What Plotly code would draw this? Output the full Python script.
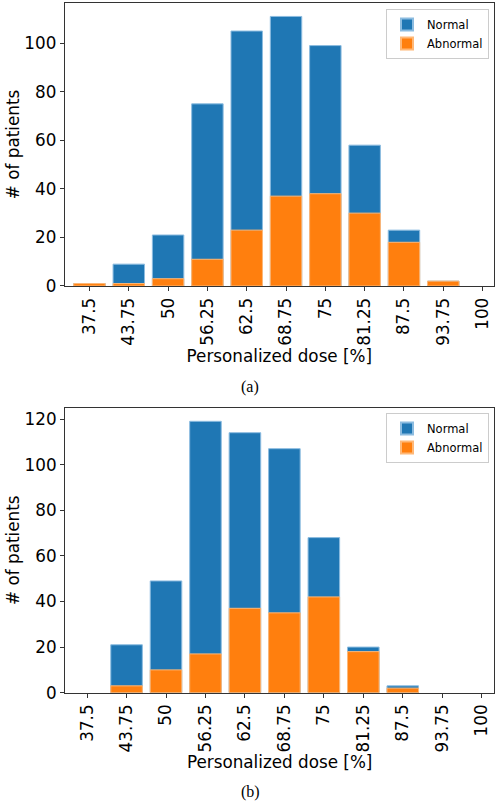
import plotly.graph_objects as go
from plotly.subplots import make_subplots

doses = ["37.5", "43.75", "50", "56.25", "62.5", "68.75", "75", "81.25", "87.5", "93.75", "100"]

normal_a = [1, 9, 21, 75, 105, 111, 99, 58, 23, 2, 0]
abnormal_a = [1, 1, 3, 11, 23, 37, 38, 30, 18, 2, 0]

normal_b = [0, 21, 49, 119, 114, 107, 68, 20, 3, 0, 0]
abnormal_b = [0, 3, 10, 17, 37, 35, 42, 18, 2, 0, 0]

BLUE = "#1f77b4"
ORANGE = "#ff7f0e"
FONT = "DejaVu Sans"
FS = 16.8

fig = make_subplots(rows=2, cols=1)

def nz(values):
    # empty bins are drawn as nothing (no outline at the baseline)
    return [v if v else None for v in values]

def add_panel(row, normal, abnormal, legend):
    fig.add_trace(go.Bar(x=doses, y=nz(normal), name="Normal", width=0.8,
                         marker=dict(color=BLUE, line=dict(color="#8cbce0", width=1)),
                         legend=legend), row=row, col=1)
    fig.add_trace(go.Bar(x=doses, y=nz(abnormal), name="Abnormal", width=0.8,
                         marker=dict(color=ORANGE, line=dict(color="#ffb877", width=1)),
                         legend=legend), row=row, col=1)

add_panel(1, normal_a, abnormal_a, "legend")
add_panel(2, normal_b, abnormal_b, "legend2")

axis_common = dict(showline=True, mirror=True, linecolor="#333", linewidth=1,
                   ticks="outside", ticklen=4, tickcolor="#333", showgrid=False,
                   zeroline=False, automargin=False,
                   tickfont=dict(family=FONT, size=FS, color="black"))

fig.update_xaxes(type="category", tickangle=-90,
                 title=dict(text="Personalized dose [%]", font=dict(family=FONT, size=FS, color="black"),
                            standoff=4),
                 **axis_common)
fig.update_yaxes(title=dict(text="# of patients", font=dict(family=FONT, size=FS, color="black"),
                            standoff=0),
                 **axis_common)

fig.update_xaxes(domain=[0.1294, 0.988], range=[-0.63, 10.29], row=1, col=1)
fig.update_xaxes(domain=[0.13, 0.9886], range=[-0.56, 10.32], row=2, col=1)
fig.update_yaxes(domain=[0.6434, 0.9963], range=[0, 116.55], tickvals=[0, 20, 40, 60, 80, 100], row=1, col=1)
fig.update_yaxes(domain=[0.1363, 0.4916], range=[0, 124.95], tickvals=[0, 20, 40, 60, 80, 100, 120], row=2, col=1)

legend_style = dict(bgcolor="white", bordercolor="#cccccc", borderwidth=1,
                    font=dict(family=FONT, size=11.5, color="black"),
                    xanchor="right", yanchor="top", x=0.978, tracegroupgap=0,
                    itemsizing="constant")
fig.update_layout(
    barmode="overlay",
    width=500, height=802,
    margin=dict(l=0, r=0, t=0, b=0),
    plot_bgcolor="white", paper_bgcolor="white",
    font=dict(family=FONT, color="black"),
    legend=dict(y=0.9888, **legend_style),
    legend2=dict(y=0.485, **legend_style),
    showlegend=True,
)

fig.add_annotation(text="(a)", x=0.5, y=1 - 387 / 802, xref="paper", yref="paper",
                   xanchor="center", yanchor="middle",
                   showarrow=False, font=dict(family="Liberation Serif", size=16, color="black"))
fig.add_annotation(text="(b)", x=0.5, y=1 - 792 / 802, xref="paper", yref="paper",
                   xanchor="center", yanchor="middle",
                   showarrow=False, font=dict(family="Liberation Serif", size=16, color="black"))

fig.write_html("out.html", config={"displayModeBar": False},
               post_script="document.body.style.margin='0';document.body.style.padding='0';")
